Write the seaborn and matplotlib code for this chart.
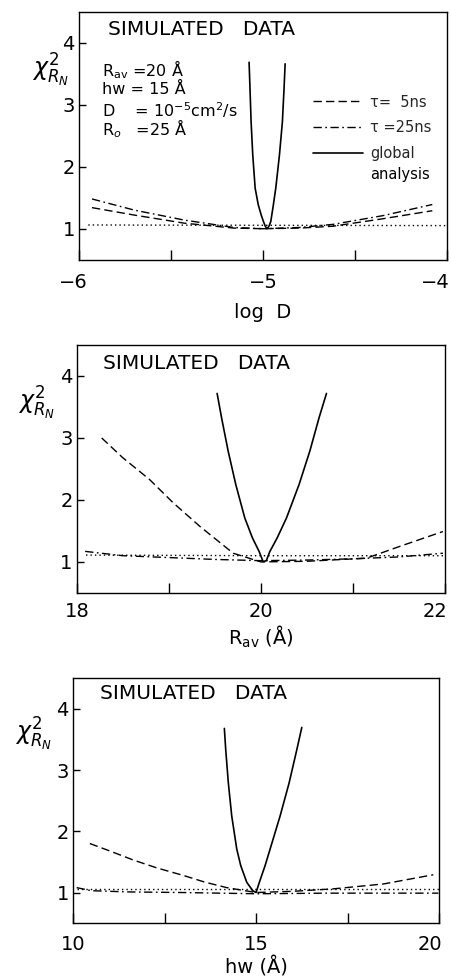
import numpy as np
import pandas as pd
import matplotlib
matplotlib.use("Agg")
import matplotlib.pyplot as plt
import matplotlib.transforms as mtransforms
import seaborn as sns

# --- panel 1: log D scan ---
logd_glob_x = [-5.076, -5.071, -5.065, -5.056, -5.043, -5.026, -5.010, -4.998, -4.988, -4.978,
               -4.968, -4.958, -4.944, -4.931, -4.911, -4.895, -4.886, -4.880]
logd_glob_y = [3.685, 3.258, 2.722, 2.188, 1.653, 1.385, 1.22, 1.117, 1.04, 1.00,
               1.04, 1.117, 1.385, 1.653, 2.188, 2.722, 3.258, 3.66]
logd_t5_x = [-5.93, -5.7, -5.43, -5.16, -5.0, -4.8, -4.62, -4.35, -4.08]
logd_t5_y = [1.34, 1.22, 1.09, 1.01, 1.00, 1.01, 1.04, 1.16, 1.29]
logd_t25_x = [-5.93, -5.7, -5.43, -5.16, -5.0, -4.8, -4.62, -4.35, -4.08]
logd_t25_y = [1.48, 1.30, 1.14, 1.02, 1.00, 1.02, 1.07, 1.21, 1.39]
logd_ref_x = [-5.95, -5.0, -4.0]
logd_ref_y = [1.06, 1.055, 1.05]

# --- panel 2: R_av scan ---
rav_glob_x = [19.525, 19.573, 19.645, 19.728, 19.826, 19.910, 19.982, 20.025, 20.06,
              20.098, 20.177, 20.279, 20.416, 20.533, 20.634, 20.714]
rav_glob_y = [3.718, 3.329, 2.788, 2.248, 1.708, 1.384, 1.167, 1.005, 1.02,
              1.167, 1.384, 1.708, 2.248, 2.788, 3.329, 3.718]
rav_t5_x = [18.27, 18.5, 18.79, 19.05, 19.34, 19.70, 20.0, 20.5, 21.15, 21.51, 21.98]
rav_t5_y = [3.00, 2.68, 2.33, 1.95, 1.57, 1.14, 1.00, 1.01, 1.06, 1.25, 1.49]
rav_t25_x = [18.09, 18.5, 19.0, 19.5, 20.0, 20.5, 21.0, 21.5, 21.98]
rav_t25_y = [1.17, 1.10, 1.07, 1.04, 1.02, 1.03, 1.05, 1.08, 1.14]
rav_ref_x = [18.1, 20.0, 22.0]
rav_ref_y = [1.11, 1.10, 1.10]

# --- panel 3: hw scan ---
hw_glob_x = [14.134, 14.172, 14.243, 14.336, 14.473, 14.582, 14.746, 14.910, 15.0,
             15.090, 15.246, 15.383, 15.656, 15.902, 16.112, 16.249]
hw_glob_y = [3.679, 3.329, 2.788, 2.248, 1.708, 1.438, 1.167, 1.03, 1.0,
             1.167, 1.438, 1.708, 2.248, 2.788, 3.329, 3.695]
hw_t5_x = [10.46, 11.0, 11.65, 12.3, 13.01, 13.6, 14.2, 15.0, 16.0, 17.11, 18.48, 19.84]
hw_t5_y = [1.80, 1.68, 1.53, 1.40, 1.28, 1.17, 1.08, 1.00, 1.02, 1.06, 1.14, 1.29]
hw_t25_x = [10.1, 10.5, 11.5, 13.0, 15.0, 17.0, 19.0, 19.98]
hw_t25_y = [1.08, 1.03, 1.01, 1.00, 0.98, 0.99, 0.99, 0.99]
hw_ref_x = [10.1, 15.0, 20.0]
hw_ref_y = [1.06, 1.06, 1.06]

# axis setup per panel
x_limits = [(-6, -4), (18, 22), (10, 20)]
x_ticks = [[-6, -5.5, -5, -4.5, -4], [18, 19, 20, 21, 22], [10, 12.5, 15, 17.5, 20]]
x_ticklabels = [["\u22126", "", "\u22125", "", "\u22124"], ["18", "", "20", "", "22"], ["10", "", "15", "", "20"]]
x_labels = ["log  D", "R$_{\\rm av}$ (Å)", "hw (Å)"]
legend_labels = ["τ=  5ns", "τ =25ns", "global"]

sns.set_theme(style="white")
plt.rcParams['font.family'] = ['DejaVu Sans']
plt.rcParams['mathtext.fontset'] = 'dejavusans'

DASHED = (0, (6, 3))
DASHDOT = (0, (6, 2.5, 1.2, 2.5))
DOTTED = (0, (1, 2.2))

fig = plt.figure(figsize=(4.52, 9.8), dpi=100)
rects = [
    [0.175, 0.735, 0.814, 0.253],
    [0.170, 0.395, 0.814, 0.253],
    [0.1615, 0.058, 0.810, 0.250],
]
panels = [
    (logd_glob_x, logd_glob_y, logd_t5_x, logd_t5_y, logd_t25_x, logd_t25_y, logd_ref_x, logd_ref_y),
    (rav_glob_x, rav_glob_y, rav_t5_x, rav_t5_y, rav_t25_x, rav_t25_y, rav_ref_x, rav_ref_y),
    (hw_glob_x, hw_glob_y, hw_t5_x, hw_t5_y, hw_t25_x, hw_t25_y, hw_ref_x, hw_ref_y),
]
title_pos = [(0.079, 0.927), (0.071, 0.927), (0.074, 0.939)]
chi_pos = [(-0.079, 0.762), (-0.111, 0.766), (-0.109, 0.771)]
tick_pads = [9.5, 6.5, 8.5]
label_pads = [8, 2, 2]

for i, (rect, data) in enumerate(zip(rects, panels)):
    gx, gy, ax5, ay5, ax25, ay25, rx, ry = data
    ax = fig.add_axes(rect)
    sns.lineplot(x=ax5, y=ay5, ax=ax, color='black', lw=1.0, linestyle=DASHED, label=legend_labels[0], legend=False)
    sns.lineplot(x=ax25, y=ay25, ax=ax, color='black', lw=1.0, linestyle=DASHDOT, label=legend_labels[1], legend=False)
    sns.lineplot(x=gx, y=gy, ax=ax, color='black', lw=1.2, label=legend_labels[2], legend=False, sort=False)
    sns.lineplot(x=rx, y=ry, ax=ax, color='black', lw=1.0, linestyle=DOTTED, legend=False)

    ax.set_xlim(*x_limits[i])
    ax.set_ylim(0.5, 4.5)
    ax.set_yticks([1, 2, 3, 4])
    ax.set_xticks(x_ticks[i])
    ax.set_xticklabels(x_ticklabels[i])
    ax.tick_params(axis='y', direction='in', length=5, width=1, pad=3, labelsize=14, colors='black', left=True)
    ax.tick_params(axis='x', direction='in', length=7, width=1, pad=tick_pads[i], labelsize=14, colors='black', bottom=True)
    # last x label sits flush with the right frame, like the original
    last = ax.get_xticklabels()[-1]
    last.set_horizontalalignment('right')
    last.set_transform(last.get_transform() + mtransforms.ScaledTranslation(3 / 100, 0, fig.dpi_scale_trans))
    if i == 0:
        first = ax.get_xticklabels()[0]
        first.set_transform(first.get_transform() + mtransforms.ScaledTranslation(-6 / 100, 0, fig.dpi_scale_trans))
    for sp in ax.spines.values():
        sp.set_visible(True)
        sp.set_color('black')
        sp.set_linewidth(1.0)
    ax.set_xlabel(x_labels[i], fontsize=14, labelpad=label_pads[i], color='black')
    ax.set_ylabel('')

    ax.text(title_pos[i][0], title_pos[i][1], "SIMULATED   DATA", transform=ax.transAxes,
            fontsize=14.5, va='center', ha='left', color='black')
    ax.text(chi_pos[i][0], chi_pos[i][1], r"$\chi^2_{R_N}$", transform=ax.transAxes,
            fontsize=17, va='center', ha='center', color='black')

    if i == 0:
        params = [r"R$_{\rm av}$ =20 Å", "hw = 15 Å", r"D    = 10$^{-5}$cm$^2$/s", r"R$_o$   =25 Å"]
        for txt, yy in zip(params, [0.766, 0.685, 0.605, 0.527]):
            ax.text(0.0625, yy, txt, transform=ax.transAxes, fontsize=11.5, va='center', ha='left', color='black')
        ax.legend(loc='upper left', bbox_to_anchor=(0.636, 0.666), frameon=False, fontsize=10.5,
                  handlelength=3.4, handletextpad=0.5, labelspacing=0.73, borderpad=0, borderaxespad=0)
        ax.text(0.791, 0.343, "analysis", transform=ax.transAxes, fontsize=10.5,
                va='center', ha='left', color='black')

fig.savefig("out.png", dpi=100, facecolor='white')
